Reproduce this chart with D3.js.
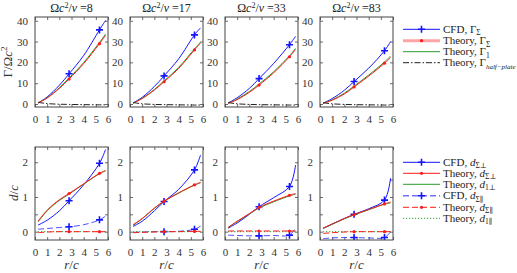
<!DOCTYPE html>
<html><head><meta charset="utf-8">
<script src="https://cdn.jsdelivr.net/npm/d3@7"></script>
<style>body{margin:0;background:#fff} svg{display:block}</style>
</head><body><svg id="c" width="517" height="273"></svg>
<script>
// ---------------- data ----------------
const rGrid = [0.25, 1, 2, 2.8, 4, 5.3, 5.8];
const markerIdx = [3, 5];
const omegaLabels = ["8", "17", "33", "83"];
const xTicks = [0, 1, 2, 3, 4, 5, 6];
const gammaTicks = [0, 10, 20, 30, 40];
const dTicks = [0, 1, 2];
const dMinorTicks = [0, 0.5, 1, 1.5, 2];

// top row: circulation
const cfdGammaSigma = [
  [0.5, 3.4, 9.0, 14.5, 23.3, 35.6, 40.2],
  [0.5, 3.2, 8.4, 13.5, 21.7, 33.2, 36.6],
  [0.5, 3.0, 7.5, 12.2, 19.5, 28.5, 32.5],
  [0.4, 2.6, 6.6, 10.8, 17.2, 25.6, 30.0]
];
const theoryGammaSigma = [
  [0.4, 2.9, 7.5, 12.0, 19.4, 29.0, 33.0],
  [0.4, 2.6, 6.7, 10.7, 17.1, 26.0, 29.3],
  [0.3, 2.1, 5.6, 9.1, 15.0, 22.7, 26.2],
  [0.3, 1.8, 4.8, 8.2, 13.4, 19.6, 22.4]
];
const theoryGamma1 = [
  [0.5, 3.0, 7.8, 12.5, 19.9, 29.6, 33.6],
  [0.5, 2.8, 7.0, 11.1, 17.6, 26.5, 29.8],
  [0.4, 2.4, 6.0, 9.6, 15.5, 23.2, 26.7],
  [0.4, 2.0, 5.2, 8.6, 13.9, 20.2, 23.0]
];
const theoryGammaHalfPlate = [
  [0.8, 0.2, -0.1, -0.2, -0.3, -0.4, -0.4],
  [0.7, 0.1, -0.2, -0.3, -0.4, -0.5, -0.5],
  [0.7, 0.1, -0.2, -0.3, -0.4, -0.5, -0.5],
  [0.6, 0.1, -0.2, -0.3, -0.4, -0.5, -0.5]
];

// bottom row: distances
const cfdDSigmaPerp = [
  [0.19, 0.33, 0.60, 0.89, 1.35, 1.97, 2.37],
  [0.15, 0.30, 0.60, 0.87, 1.22, 1.78, 2.21],
  [0.10, 0.25, 0.50, 0.72, 0.98, 1.30, 1.92],
  [0.10, 0.22, 0.38, 0.50, 0.66, 0.91, 1.54]
];
const theoryDSigmaPerp = [
  [0.30, 0.62, 0.92, 1.10, 1.38, 1.68, 1.76],
  [0.20, 0.38, 0.68, 0.88, 1.12, 1.35, 1.42],
  [0.12, 0.30, 0.52, 0.70, 0.88, 1.05, 1.10],
  [0.10, 0.22, 0.38, 0.49, 0.64, 0.80, 0.85]
];
const theoryD1Perp = [
  [0.28, 0.60, 0.90, 1.08, 1.37, 1.67, 1.75],
  [0.18, 0.37, 0.67, 0.87, 1.11, 1.34, 1.41],
  [0.12, 0.29, 0.51, 0.68, 0.86, 1.03, 1.08],
  [0.09, 0.21, 0.37, 0.48, 0.63, 0.79, 0.83]
];
const cfdDSigmaPar = [
  [0.07, 0.09, 0.12, 0.14, 0.20, 0.34, 0.45],
  [-0.02, -0.01, 0.00, 0.00, 0.01, 0.07, 0.16],
  [-0.10, -0.11, -0.12, -0.12, -0.11, -0.10, 0.12],
  [-0.20, -0.18, -0.17, -0.17, -0.18, -0.17, 0.00]
];
const theoryDSigmaPar = [
  [-0.03, -0.01, 0.00, 0.00, 0.00, 0.00, 0.00],
  [-0.03, -0.02, -0.01, 0.00, 0.00, 0.01, 0.01],
  [0.02, 0.02, 0.02, 0.02, 0.02, 0.02, 0.02],
  [-0.05, -0.03, -0.01, 0.00, 0.00, 0.00, 0.00]
];
const theoryD1Par = [
  [0, 0, 0, 0, 0, 0, 0],
  [0, 0, 0, 0, 0, 0, 0],
  [0, 0, 0, 0, 0, 0, 0],
  [0, 0, 0, 0, 0, 0, 0]
];

// ---------------- drawing ----------------
const svg = d3.select("#c");
const FONT = "Liberation Serif, DejaVu Serif, serif";
const BLUE = "#1414ff", RED = "#ff1a1a", GREEN = "#2a9a2a", BLACK = "#222";
const panelLefts = [35, 130, 225, 320];
const PW = 73;
const topRow = {top: 17, bottom: 107, domain: [-1.44, 41.8], ticks: gammaTicks, minor: gammaTicks};
const botRow = {top: 147, bottom: 240, domain: [-0.24, 2.44], ticks: dTicks, minor: dMinorTicks};

function styleAxis(g) {
  g.select(".domain").remove();
  g.selectAll(".tick line").attr("stroke", "#444").attr("stroke-width", 0.8);
  g.selectAll(".tick text").attr("fill", "#333").attr("font-family", FONT).attr("font-size", 11);
}

function drawPanel(left, row, series, i, showXLabel) {
  const x = d3.scaleLinear().domain([0, 6]).range([left, left + PW]);
  const y = d3.scaleLinear().domain(row.domain).range([row.bottom, row.top]);
  const g = svg.append("g");
  const cid = "clip" + left + "_" + row.top;
  svg.append("clipPath").attr("id", cid).append("rect")
    .attr("x", left).attr("y", row.top).attr("width", PW).attr("height", row.bottom - row.top);

  g.append("g").attr("transform", `translate(0,${row.bottom})`)
    .call(d3.axisBottom(x).tickValues(xTicks).tickSize(-3).tickPadding(8).tickFormat(d3.format("d")))
    .call(styleAxis);
  g.append("g").attr("transform", `translate(0,${row.top})`)
    .call(d3.axisTop(x).tickValues(xTicks).tickSize(-3).tickFormat(""))
    .call(styleAxis);
  g.append("g").attr("transform", `translate(${left},0)`)
    .call(d3.axisLeft(y).tickValues(row.minor).tickSize(-3).tickPadding(7)
      .tickFormat(d => row.ticks.includes(d) ? d3.format("d")(d) : ""))
    .call(styleAxis);
  g.append("g").attr("transform", `translate(${left + PW},0)`)
    .call(d3.axisRight(y).tickValues(row.minor).tickSize(-3).tickFormat(""))
    .call(styleAxis);

  const plot = g.append("g").attr("clip-path", `url(#${cid})`);
  const line = d3.line().x((d, j) => x(rGrid[j])).y(d => y(d)).curve(d3.curveCatmullRom.alpha(0.5));
  series.forEach(s => {
    const p = plot.append("path").attr("d", line(s.data)).attr("fill", "none")
      .attr("stroke", s.color).attr("stroke-width", s.width || 1);
    if (s.dash) p.attr("stroke-dasharray", s.dash);
    if (s.opacity) p.attr("stroke-opacity", s.opacity);
    if (s.marker === "plus") {
      markerIdx.forEach(j => {
        const cx = x(rGrid[j]), cy = y(s.data[j]);
        plot.append("path").attr("d", `M${cx - 3.5},${cy}H${cx + 3.5}M${cx},${cy - 3.5}V${cy + 3.5}`)
          .attr("stroke", BLUE).attr("stroke-width", 1.6);
      });
    } else if (s.marker === "dot") {
      markerIdx.forEach(j => {
        plot.append("circle").attr("cx", x(rGrid[j])).attr("cy", y(s.data[j])).attr("r", 1.6).attr("fill", RED);
      });
    }
  });

  g.append("rect").attr("x", left).attr("y", row.top).attr("width", PW).attr("height", row.bottom - row.top)
    .attr("fill", "none").attr("stroke", "#444").attr("stroke-width", 1);

  if (showXLabel) {
    const t = g.append("text").attr("x", left + PW / 2).attr("y", 269).attr("text-anchor", "middle")
      .attr("font-family", FONT).attr("font-size", 13).attr("fill", "#333");
    t.append("tspan").attr("font-style", "italic").text("r");
    t.append("tspan").text("/");
    t.append("tspan").attr("font-style", "italic").text("c");
  }
}

// titles
omegaLabels.forEach((lab, i) => {
  const t = svg.append("text").attr("x", panelLefts[i] + PW / 2).attr("y", 12).attr("text-anchor", "middle")
    .attr("font-family", FONT).attr("font-size", 12).attr("fill", "#222");
  t.append("tspan").text("Ω");
  t.append("tspan").attr("font-style", "italic").text("c");
  t.append("tspan").attr("font-size", 8).attr("dy", -4).text("2");
  t.append("tspan").attr("dy", 4).text("/");
  t.append("tspan").attr("font-style", "italic").text("ν");
  t.append("tspan").text(" =" + lab);
});

omegaLabels.forEach((lab, i) => {
  drawPanel(panelLefts[i], topRow, [
    {data: cfdGammaSigma[i], color: BLUE, marker: "plus"},
    {data: theoryGamma1[i], color: GREEN},
    {data: theoryGammaSigma[i], color: RED, marker: "dot"},
    {data: theoryGammaHalfPlate[i], color: BLACK, dash: "6,2,1.5,2"}
  ], i, false);
  drawPanel(panelLefts[i], botRow, [
    {data: cfdDSigmaPar[i], color: BLUE, dash: "6,3", marker: "plus", opacity: 0.75},
    {data: theoryD1Par[i], color: GREEN, dash: "1.2,1.8"},
    {data: theoryDSigmaPar[i], color: RED, dash: "6,3", marker: "dot"},
    {data: cfdDSigmaPerp[i], color: BLUE, marker: "plus"},
    {data: theoryD1Perp[i], color: GREEN},
    {data: theoryDSigmaPerp[i], color: RED, marker: "dot"}
  ], i, true);
});

// y labels
{
  const t = svg.append("text").attr("transform", "translate(12,62) rotate(-90)").attr("text-anchor", "middle")
    .attr("font-family", FONT).attr("font-size", 13).attr("fill", "#333");
  t.append("tspan").text("Γ/Ω");
  t.append("tspan").attr("font-style", "italic").text("c");
  t.append("tspan").attr("font-size", 9).attr("dy", -5).text("2");
  const t2 = svg.append("text").attr("transform", "translate(18,193) rotate(-90)").attr("text-anchor", "middle")
    .attr("font-family", FONT).attr("font-size", 13).attr("fill", "#333");
  t2.append("tspan").attr("font-style", "italic").text("d");
  t2.append("tspan").text("/");
  t2.append("tspan").attr("font-style", "italic").text("c");
}

// legends
function legendEntry(y, s, prefix, sym, sub, subItalic) {
  const x0 = 403, x1 = 440, xm = (x0 + x1) / 2;
  const p = svg.append("line").attr("x1", x0).attr("x2", x1).attr("y1", y).attr("y2", y)
    .attr("stroke", s.color).attr("stroke-width", s.width || 1);
  if (s.dash) p.attr("stroke-dasharray", s.dash);
  if (s.opacity) p.attr("stroke-opacity", s.opacity);
  if (s.marker === "plus") svg.append("path").attr("d", `M${xm - 3.5},${y}H${xm + 3.5}M${xm},${y - 3.5}V${y + 3.5}`)
    .attr("stroke", BLUE).attr("stroke-width", 1.6);
  if (s.marker === "dot") svg.append("circle").attr("cx", xm).attr("cy", y).attr("r", 1.6).attr("fill", RED);
  const t = svg.append("text").attr("x", 443).attr("y", y + 3.5).attr("font-family", FONT)
    .attr("font-size", 11).attr("fill", "#222");
  t.append("tspan").text(prefix);
  const sy = t.append("tspan").text(sym);
  if (sym === "d") sy.attr("font-style", "italic");
  const sb = t.append("tspan").attr("font-size", 7.5).attr("dy", 2.5).text(sub);
  if (subItalic) sb.attr("font-style", "italic").attr("font-size", 7);
}
legendEntry(29.3, {color: BLUE, marker: "plus"}, "CFD, ", "Γ", "Σ");
legendEntry(40.7, {color: RED, marker: "dot", width: 3, opacity: 0.4}, "Theory, ", "Γ", "Σ");
legendEntry(51.7, {color: GREEN}, "Theory, ", "Γ", "1");
legendEntry(62.7, {color: BLACK, dash: "6,2,1.5,2"}, "Theory, ", "Γ", "half−plate", true);

legendEntry(162.3, {color: BLUE, marker: "plus"}, "CFD, ", "d", "Σ⊥");
legendEntry(173.3, {color: RED, marker: "dot"}, "Theory, ", "d", "Σ⊥");
legendEntry(184.3, {color: GREEN}, "Theory, ", "d", "1⊥");
legendEntry(195.7, {color: BLUE, marker: "plus", dash: "6,3", opacity: 0.6, width: 1.5}, "CFD, ", "d", "Σ∥");
legendEntry(207.3, {color: RED, marker: "dot", dash: "6,3"}, "Theory, ", "d", "Σ∥");
legendEntry(218.3, {color: GREEN, dash: "1.2,1.8"}, "Theory, ", "d", "1∥");
</script>
</body></html>
